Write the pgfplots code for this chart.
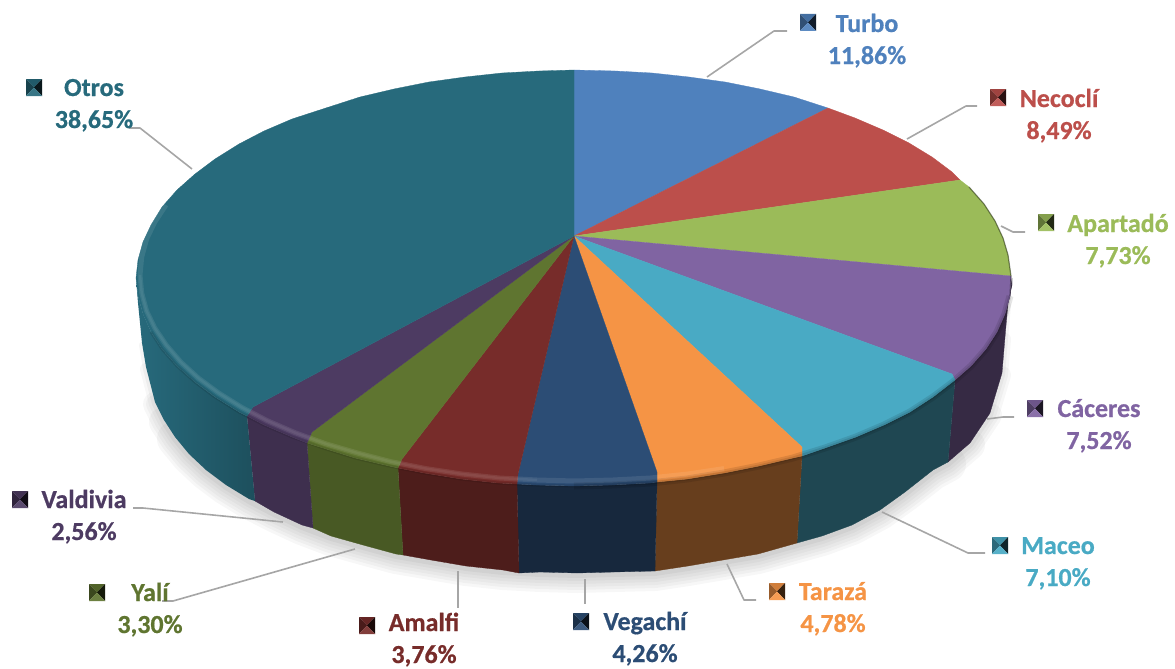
\documentclass[border=0pt]{standalone}
\usepackage{fontspec}
\setmainfont{Carlito}[BoldFeatures={FakeBold=0.6}]
\usepackage{pgfplots}
\usepackage{pgfplotstable}
\pgfplotsset{compat=1.18}
\definecolor{cTurbo}{HTML}{4F81BD}
\definecolor{cNeco}{HTML}{BC4F4B}
\definecolor{cApar}{HTML}{9BBB59}
\definecolor{cCace}{HTML}{8064A2}
\definecolor{cMace}{HTML}{49AAC4}
\definecolor{cTara}{HTML}{F59445}
\definecolor{cVega}{HTML}{2C4D75}
\definecolor{cAmal}{HTML}{772C2A}
\definecolor{cYali}{HTML}{5F7530}
\definecolor{cVald}{HTML}{4D3B62}
\definecolor{cOtro}{HTML}{276A7C}
\definecolor{lead}{HTML}{A6A6A6}
\pgfplotstableread{
x y
1012 285
1008 303
1005 337
1002 373
990 413
970 443
948 462
933 470
905 492
880 510
852 525
822 536
797 543
758 554
723 560
688 566
655 571
614 572
577 573
540 572
503 570
466 566
431 560
396 554
363 545
331 536
302 525
274 512
249 499
226 485
206 470
189 454
175 437
164 420
155 402
146 367
142 343
138 303
136 278
}\silhouette
\pgfplotstableread{
x y
1010 296
1005 314
997 332
986 349
971 366
953 382
933 397
910 412
884 425
856 437
825 448
793 458
759 466
724 473
687 479
650 483
612 485
574 486
536 485
498 483
461 479
424 473
389 466
355 458
323 448
292 437
264 425
239 412
215 397
195 382
177 366
162 349
151 332
143 314
138 296
136 278
}\outerarc
\newcommand{\keybox}[3]{%
 \fill[#3!85!black] (axis cs:#1,#2) -- (axis cs:#1+16,#2) -- (axis cs:#1+8,#2+8.5) -- cycle;
 \fill[#3!62!black] (axis cs:#1,#2) -- (axis cs:#1,#2+17) -- (axis cs:#1+8,#2+8.5) -- cycle;
 \fill[#3!22!black] (axis cs:#1+16,#2) -- (axis cs:#1+16,#2+17) -- (axis cs:#1+8,#2+8.5) -- cycle;
 \fill[#3!92!white] (axis cs:#1,#2+17) -- (axis cs:#1+16,#2+17) -- (axis cs:#1+8,#2+8.5) -- cycle;
}
\newcommand{\lab}[5]{%
 \node[anchor=base,inner sep=0pt,text=#5,font=\fontsize{26}{30}\selectfont\bfseries] at (axis cs:#1,#2) {#3};
 \node[anchor=base,inner sep=0pt,text=#5,font=\fontsize{26}{30}\selectfont\bfseries] at (axis cs:#1,#2+32) {#4};
}
\begin{document}
\begin{tikzpicture}
\useasboundingbox (0,0) rectangle (1175pt,669pt);
\begin{axis}[
  at={(0,0)}, anchor=south west,
  scale only axis, width=1175pt, height=669pt,
  xmin=0, xmax=1175, ymin=0, ymax=669, y dir=reverse,
  hide axis, clip=false,
  every axis plot/.append style={line join=round}
]
% soft shadow
\addplot[draw=black,opacity=0.03,line width=36pt,line cap=round,forget plot,skip coords between index={0}{6},skip coords between index={33}{39}] table[x=x,y expr=\thisrow{y}+2] {\silhouette};
\addplot[draw=black,opacity=0.03,line width=30pt,line cap=round,forget plot,skip coords between index={0}{5},skip coords between index={34}{39}] table[x=x,y expr=\thisrow{y}+2] {\silhouette};
\addplot[draw=black,opacity=0.03,line width=24pt,line cap=round,forget plot,skip coords between index={0}{4},skip coords between index={35}{39}] table[x=x,y expr=\thisrow{y}+2] {\silhouette};
\addplot[draw=black,opacity=0.03,line width=18pt,line cap=round,forget plot,skip coords between index={0}{3},skip coords between index={35}{39}] table[x=x,y expr=\thisrow{y}+2] {\silhouette};
\addplot[draw=black,opacity=0.03,line width=12pt,line cap=round,forget plot,skip coords between index={0}{2},skip coords between index={36}{39}] table[x=x,y expr=\thisrow{y}+2] {\silhouette};
\addplot[draw=black,opacity=0.04,line width=6pt,line cap=round,forget plot,skip coords between index={0}{1},skip coords between index={37}{39}] table[x=x,y expr=\thisrow{y}+2] {\silhouette};
% side walls
\addplot[fill=cCace!42!black,draw=cCace!42!black,line width=.3pt] coordinates {(1012,278)(1010,296)(1005,314)(997,332)(986,349)(971,366)(955,380)(948,462)(970,443)(990,413)(1002,373)(1005,337)(1008,303)(1012,285)} -- cycle;
\addplot[fill=cMace!42!black,draw=cMace!42!black,line width=.3pt] coordinates {(955,380)(933,397)(910,412)(884,425)(856,437)(825,448)(802,456)(797,543)(822,536)(852,525)(880,510)(905,492)(933,470)(948,462)} -- cycle;
\addplot[fill=cTara!42!black,draw=cTara!42!black,line width=.3pt] coordinates {(802,456)(793,458)(759,466)(724,473)(687,479)(657,482)(655,571)(688,566)(723,560)(758,554)(797,543)} -- cycle;
\addplot[fill=cVega!52!black,draw=cVega!52!black,line width=.3pt] coordinates {(657,482)(650,483)(612,485)(574,486)(536,485)(517,484)(519,573)(540,572)(577,573)(614,572)(655,571)} -- cycle;
\addplot[fill=cAmal!65!black,draw=cAmal!65!black,line width=.3pt] coordinates {(517,484)(498,483)(461,479)(424,473)(398,468)(403,555)(431,560)(466,566)(503,570)(519,573)} -- cycle;
\addplot[fill=cYali!76!black,draw=cYali!76!black,line width=.3pt] coordinates {(398,468)(389,466)(355,458)(323,448)(307,443)(313,528)(331,536)(363,545)(396,554)(403,555)} -- cycle;
\addplot[fill=cVald!80!black,draw=cVald!80!black,line width=.3pt] coordinates {(307,443)(292,437)(264,425)(247,416)(255,501)(274,512)(302,525)(313,528)} -- cycle;
\addplot[left color=cOtro,right color=cOtro!75!black,draw=none] coordinates {(247,416)(239,412)(215,397)(195,382)(177,366)(162,349)(151,332)(143,314)(138,296)(136,278)(138,303)(142,343)(146,367)(155,402)(164,420)(175,437)(189,454)(206,470)(226,485)(249,499)(255,501)} -- cycle;
% top faces
\addplot[fill=cTurbo,draw=cTurbo,line width=.3pt] coordinates {(574,236)(574,70)(615,71)(652,73)(689,77)(725,82)(760,89)(794,97)(828,108)} -- cycle;
\addplot[fill=cNeco,draw=cNeco,line width=.3pt] coordinates {(574,236)(828,108)(855,118)(883,130)(909,143)(932,157)(952,172)(960,180)} -- cycle;
\addplot[fill=cApar,draw=cApar,line width=.3pt] coordinates {(574,236)(960,180)(969,187)(984,204)(995,221)(1003,238)(1008,255)(1011,276)} -- cycle;
\addplot[fill=cCace,draw=cCace,line width=.3pt] coordinates {(574,236)(1011,276)(1010,296)(1005,314)(997,332)(986,349)(971,366)(955,380)(952,374)} -- cycle;
\addplot[fill=cMace,draw=cMace,line width=.3pt] coordinates {(574,236)(952,374)(955,380)(933,397)(910,412)(884,425)(856,437)(825,448)(802,456)(802,447)} -- cycle;
\addplot[fill=cTara,draw=cTara,line width=.3pt] coordinates {(574,236)(802,447)(802,456)(793,458)(759,466)(724,473)(687,479)(657,482)(657,472)} -- cycle;
\addplot[fill=cVega,draw=cVega,line width=.3pt] coordinates {(574,236)(657,472)(657,482)(650,483)(612,485)(574,486)(536,485)(517,484)(518,474)} -- cycle;
\addplot[fill=cAmal,draw=cAmal,line width=.3pt] coordinates {(574,236)(518,474)(517,484)(498,483)(461,479)(424,473)(398,468)(402,459)} -- cycle;
\addplot[fill=cYali,draw=cYali,line width=.3pt] coordinates {(574,236)(402,459)(398,468)(389,466)(355,458)(323,448)(307,443)(312,432)} -- cycle;
\addplot[fill=cVald,draw=cVald,line width=.3pt] coordinates {(574,236)(312,432)(307,443)(292,437)(264,425)(247,416)(253,407)} -- cycle;
\addplot[fill=cOtro,draw=cOtro,line width=.3pt] coordinates {(574,236)(253,407)(247,416)(239,412)(215,397)(195,382)(177,366)(162,349)(151,332)(143,314)(138,296)(136,278)(138,260)(143,242)(151,225)(162,207)(177,190)(195,174)(215,159)(239,144)(264,131)(292,119)(329,107)(360,97)(394,89)(429,82)(465,77)(502,73)(539,71)(574,70)} -- cycle;
% bevel: dark lower edge
\addplot[draw=black,opacity=0.10,line width=7pt,skip coords between index={18}{36}] table[x=x,y=y] {\outerarc};
\addplot[draw=black,opacity=0.10,line width=3pt,skip coords between index={33}{36}] table[x=x,y=y] {\outerarc};
% bevel: highlight
\addplot[draw=white,opacity=0.09,line width=5pt] coordinates {(724,468.6)(688,474)(650.5,478)(613,480)(575,481)(537,480)(499.5,478)(462,474)(426,468.6)(391,461.7)(357.5,453)(325.5,443.7)(295.4,432.8)(267.4,420.7)(241.8,407.4)(218.7,393)(198.3,378)(180.8,362)(166.2,345)(154.8,328)(146.6,311)(141.7,293)(140,275)(141.7,257)(146.6,239)(154.8,222)(166,205)};
\addplot[draw=white,opacity=0.06,line width=2.5pt] coordinates {(537,480)(499.5,478)(462,474)(426,468.6)(391,461.7)(357.5,453)(325.5,443.7)(295.4,432.8)(267.4,420.7)(241.8,407.4)(218.7,393)(198.3,378)(180.8,362)(166.2,345)(154.8,328)(146.6,311)(141.7,293)(140,275)};
% thin dark rim on the right
\addplot[draw=black,opacity=0.4,line width=1.2pt] coordinates {(969,187)(984,204)(995,221)(1003,238)(1008,255)(1011,276)(1010,296)};
% leader lines
\addplot[draw=lead,line width=1.6pt] coordinates {(707,77)(774,31)(787,31)};
\addplot[draw=lead,line width=1.6pt] coordinates {(907,139)(966,106)(977,106)};
\addplot[draw=lead,line width=1.6pt] coordinates {(1001,226)(1013,232)(1025,232)};
\addplot[draw=lead,line width=1.6pt] coordinates {(987,419)(1003,417)(1014,417)};
\addplot[draw=lead,line width=1.6pt] coordinates {(882,512)(968,553)(985,553)};
\addplot[draw=lead,line width=1.6pt] coordinates {(727,564)(744,600)(756,600)};
\addplot[draw=lead,line width=1.6pt] coordinates {(585,579)(585,604)};
\addplot[draw=lead,line width=1.6pt] coordinates {(458,571)(458,608)};
\addplot[draw=lead,line width=1.6pt] coordinates {(355,549)(173,601)(162,601)};
\addplot[draw=lead,line width=1.6pt] coordinates {(283,522)(143,508)(133,508)};
\addplot[draw=lead,line width=1.6pt] coordinates {(192,169)(140,128)(129,128)};
% labels
\keybox{800}{14}{cTurbo}  \lab{867}{32}{Turbo}{11,86\%}{cTurbo}
\keybox{990}{89}{cNeco}   \lab{1059}{107}{Necoclí}{8,49\%}{cNeco}
\keybox{1038}{214}{cApar} \lab{1118}{232}{Apartadó}{7,73\%}{cApar}
\keybox{1027}{400}{cCace} \lab{1099}{417}{Cáceres}{7,52\%}{cCace}
\keybox{992}{537}{cMace}  \lab{1058}{554}{Maceo}{7,10\%}{cMace}
\keybox{769}{583}{cTara}  \lab{833}{600}{Tarazá}{4,78\%}{cTara}
\keybox{573}{613}{cVega}  \lab{645}{630}{Vegachí}{4,26\%}{cVega}
\keybox{359}{617}{cAmal}  \lab{424}{631}{Amalfi}{3,76\%}{cAmal}
\keybox{89}{584}{cYali}   \lab{150}{601}{Yalí}{3,30\%}{cYali}
\keybox{12}{491}{cVald}   \lab{84}{508}{Valdivia}{2,56\%}{cVald}
\keybox{26}{79}{cOtro}    \lab{94}{96}{Otros}{38,65\%}{cOtro}
\end{axis}
\end{tikzpicture}
\end{document}
